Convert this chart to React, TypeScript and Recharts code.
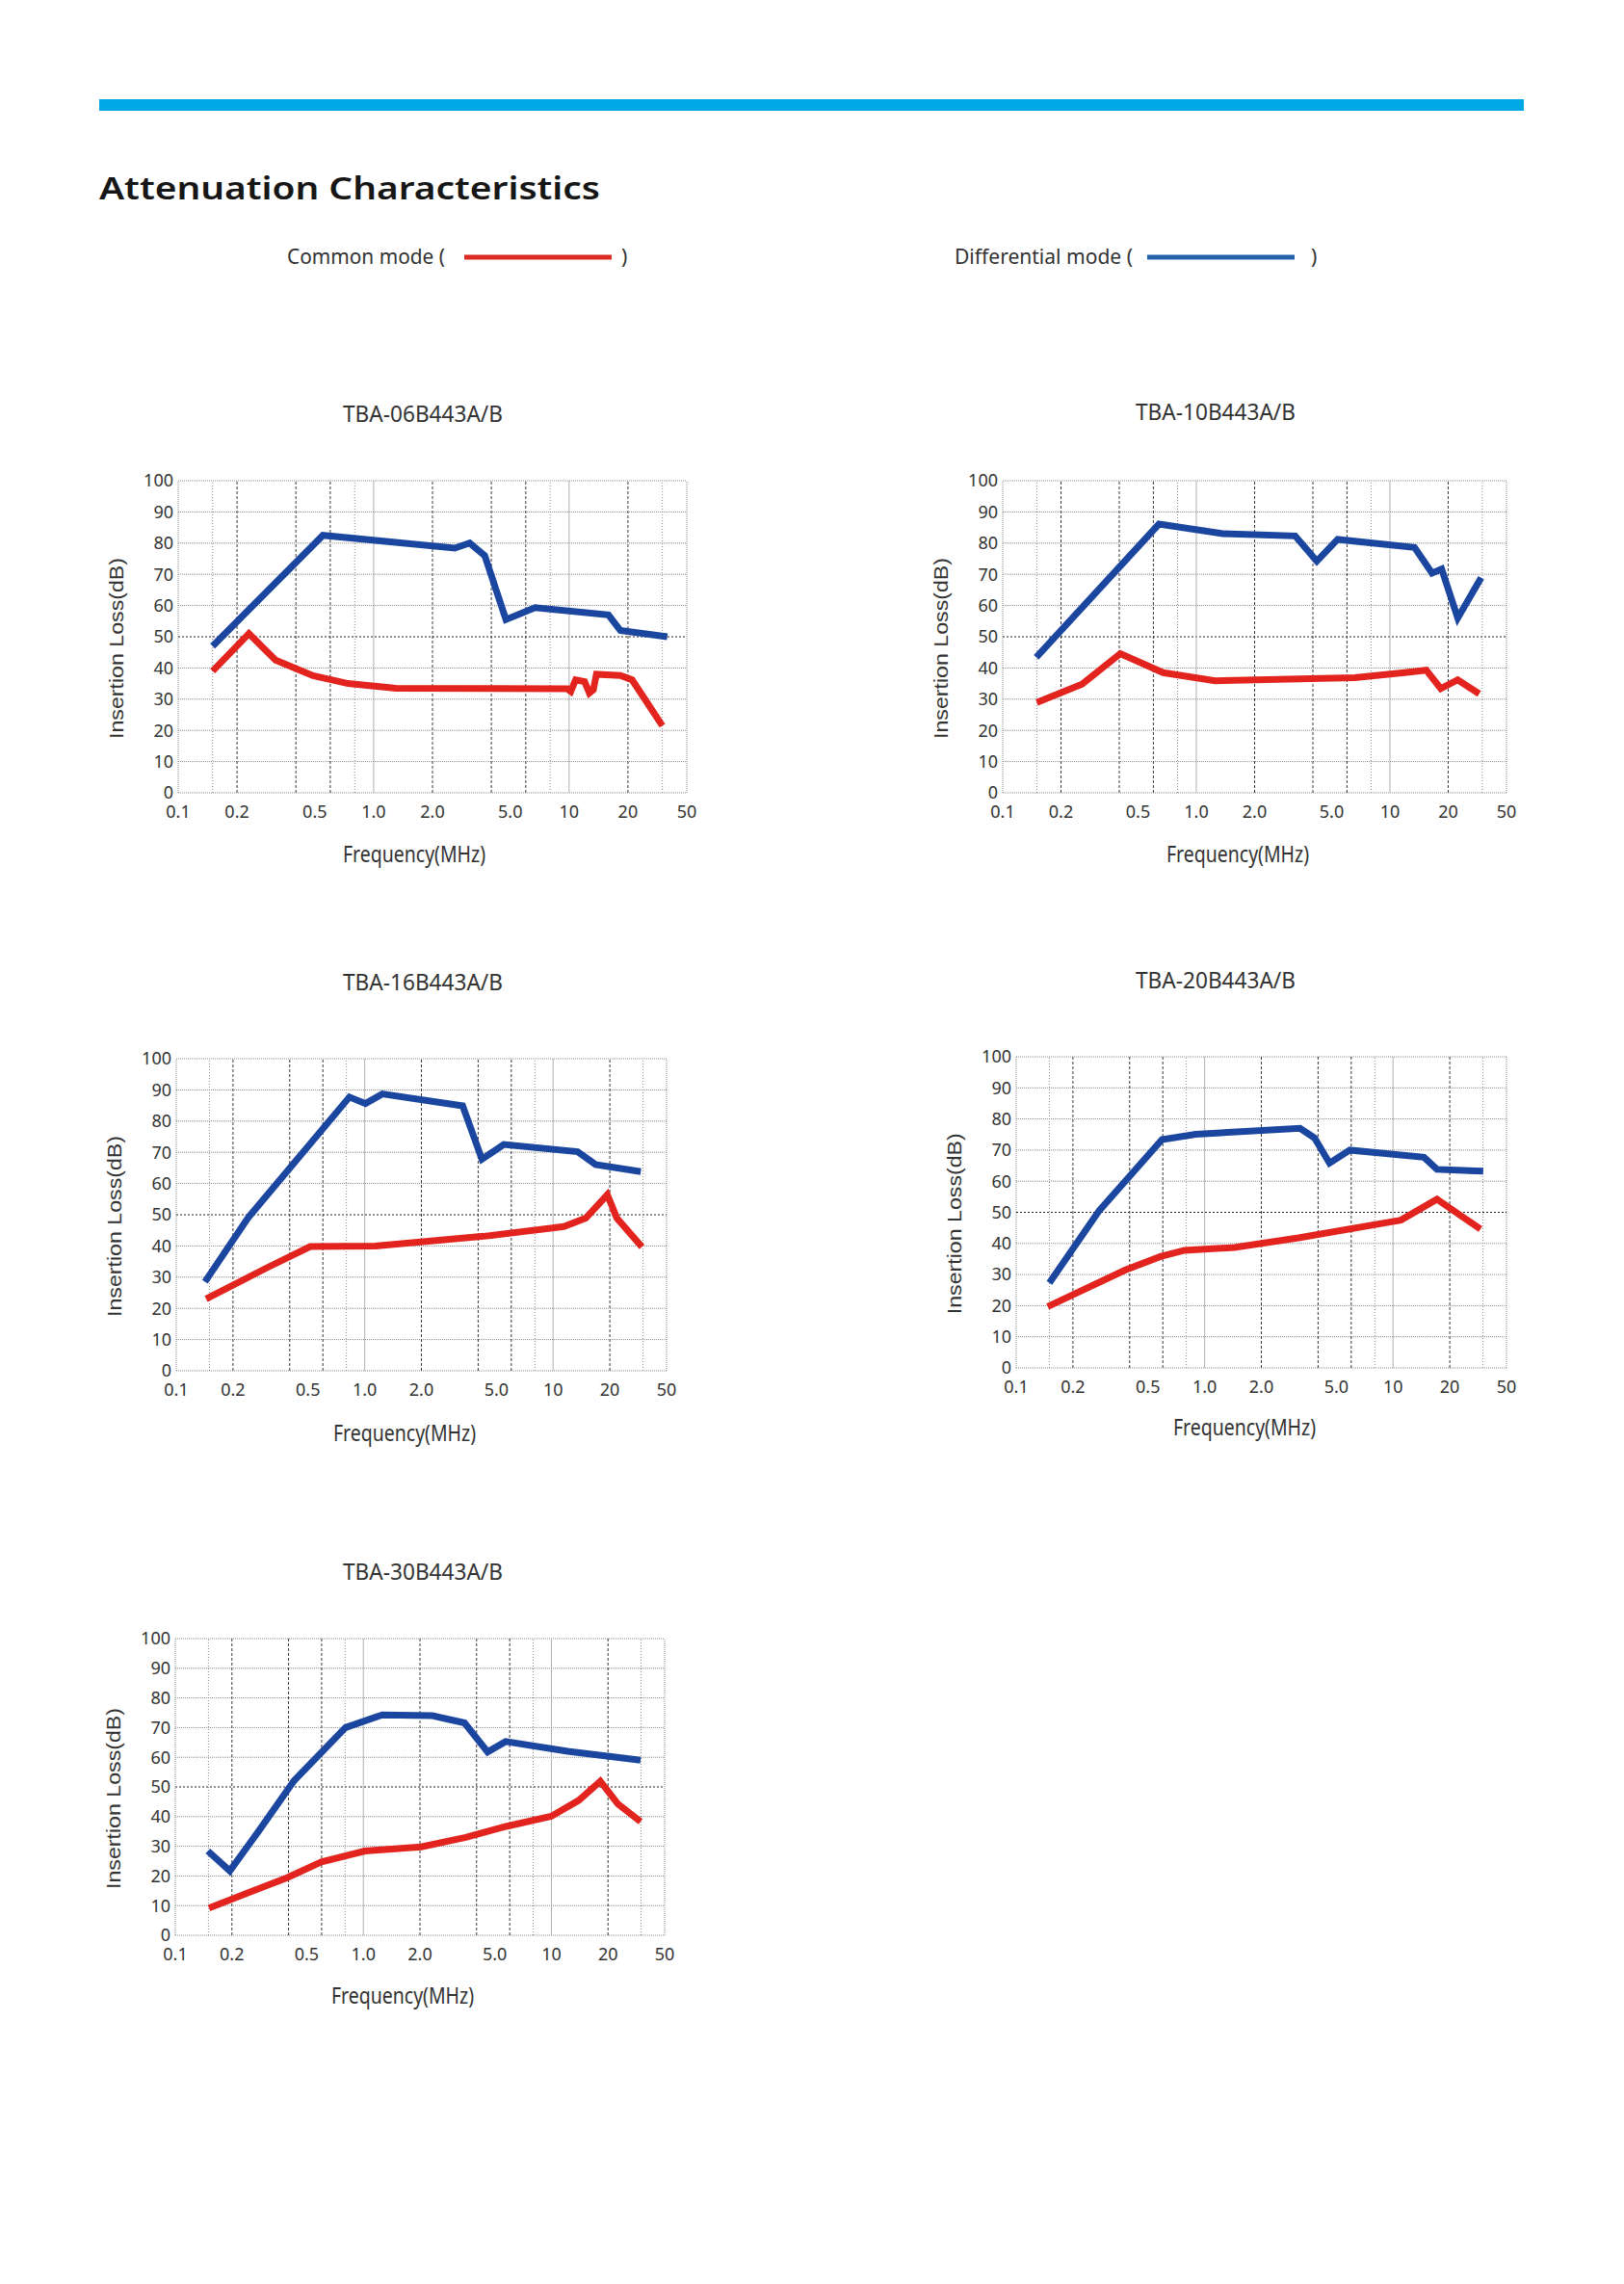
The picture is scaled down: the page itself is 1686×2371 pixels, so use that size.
import React from "react";
import { LineChart, Line, XAxis, YAxis, ReferenceLine } from "recharts";

// ---------- axis definitions ----------
const X_TICKS = [0.1, 0.2, 0.5, 1, 2, 5, 10, 20, 40];
const X_TICK_LABELS = ["0.1", "0.2", "0.5", "1.0", "2.0", "5.0", "10", "20", "50"];
const Y_TICKS = [0, 10, 20, 30, 40, 50, 60, 70, 80, 90, 100];
const X_GRID_DARK = [0.2, 0.4, 0.6, 2, 4, 6, 20];
const X_GRID_DOT = [0.15, 0.8, 8, 30];
const X_GRID_SOLID = [1, 10];
const Y_GRID = [10, 20, 30, 40, 60, 70, 80, 90];

// ---------- TBA-06B443A/B ----------
const CM06_F = [0.15, 0.23, 0.315, 0.49, 0.74, 1.3, 9.8, 10.2, 10.8, 12, 12.7, 13.3, 13.8, 18.3, 21, 30];
const CM06_V = [39, 51, 42.5, 37.5, 35, 33.5, 33.3, 32.5, 36.2, 35.6, 32, 33, 38, 37.6, 36.2, 21.5];
const DM06_F = [0.15, 0.55, 2.6, 3.1, 3.7, 4.75, 6.7, 15.9, 18.3, 31.8];
const DM06_V = [47, 82.5, 78.4, 80, 76, 55.5, 59.3, 57, 52, 50];

// ---------- TBA-10B443A/B ----------
const CM10_F = [0.15, 0.257, 0.405, 0.674, 1.25, 6.57, 11.9, 15.4, 18.3, 22.4, 28.9];
const CM10_V = [28.9, 34.8, 44.6, 38.5, 35.9, 36.9, 38.5, 39.3, 33.4, 36.2, 31.7];
const DM10_F = [0.149, 0.641, 1.37, 3.24, 4.19, 5.37, 13.4, 16.5, 18.5, 22.4, 29.6];
const DM10_V = [43.4, 86.1, 83, 82.3, 74.2, 81.2, 78.6, 70.4, 71.7, 56, 68.9];

// ---------- TBA-16B443A/B ----------
const CM16_F = [0.144, 0.305, 0.514, 1.14, 4.3, 11.4, 14.9, 19.4, 21.8, 29.6];
const CM16_V = [23, 33.1, 39.8, 40, 43.1, 46.2, 48.9, 56.4, 48.9, 39.7];
const DM16_F = [0.142, 0.241, 0.83, 1.01, 1.24, 3.31, 4.19, 5.47, 13.5, 16.8, 29.2];
const DM16_V = [28.5, 49.1, 87.7, 85.6, 88.7, 84.9, 67.8, 72.5, 70.2, 66.1, 63.8];

// ---------- TBA-20B443A/B ----------
const CM20_F = [0.147, 0.378, 0.583, 0.782, 1.44, 3.15, 11, 17.1, 29.1];
const CM20_V = [19.7, 31.4, 35.8, 37.8, 38.7, 41.8, 47.5, 54.2, 44.6];
const DM20_F = [0.15, 0.276, 0.594, 0.896, 3.21, 3.83, 4.6, 5.9, 14.6, 17.1, 30.1];
const DM20_V = [27.3, 50.6, 73.4, 75.1, 77, 73.9, 65.8, 70, 67.7, 63.8, 63.2];

// ---------- TBA-30B443A/B ----------
const CM30_F = [0.151, 0.396, 0.598, 1.02, 2.03, 3.5, 5.75, 9.98, 14, 18.2, 22.6, 29.8];
const CM30_V = [9.2, 19.5, 24.7, 28.4, 29.8, 33, 36.7, 40.1, 45.5, 51.9, 44.2, 38.3];
const DM30_F = [0.149, 0.195, 0.278, 0.428, 0.804, 1.26, 2.33, 3.45, 4.58, 5.71, 12.2, 29.8];
const DM30_V = [28.4, 21.7, 35.2, 52.1, 70, 74.3, 74, 71.6, 61.8, 65.3, 62, 59];

const RED = "#e3241e";
const BLUE = "#1b46a0";
const FONT = "'Noto Sans', 'DejaVu Sans', sans-serif";

const zip = (f: number[], v: number[]) => f.map((x, i) => ({ f: x, v: v[i] }));

type ChartProps = {
  title: string;
  L: number; T: number; R: number; B: number;
  tx: number; ty: number; fx: number; fy: number;
  cmF: number[]; cmV: number[]; dmF: number[]; dmV: number[];
};

const CHARTS: ChartProps[] = [
  { title: "TBA-06B443A/B", L: 184.5, T: 499, R: 712, B: 823, tx: 439, ty: 430, fx: 430, fy: 887, cmF: CM06_F, cmV: CM06_V, dmF: DM06_F, dmV: DM06_V },
  { title: "TBA-10B443A/B", L: 1041, T: 499, R: 1564, B: 823, tx: 1262, ty: 428, fx: 1285, fy: 887, cmF: CM10_F, cmV: CM10_V, dmF: DM10_F, dmV: DM10_V },
  { title: "TBA-16B443A/B", L: 183, T: 1099, R: 692, B: 1423, tx: 439, ty: 1020, fx: 420, fy: 1488, cmF: CM16_F, cmV: CM16_V, dmF: DM16_F, dmV: DM16_V },
  { title: "TBA-20B443A/B", L: 1055, T: 1097, R: 1564, B: 1419.5, tx: 1262, ty: 1018, fx: 1292, fy: 1482, cmF: CM20_F, cmV: CM20_V, dmF: DM20_F, dmV: DM20_V },
  { title: "TBA-30B443A/B", L: 181.5, T: 1701, R: 689, B: 2009, tx: 439, ty: 1632, fx: 418, fy: 2072, cmF: CM30_F, cmV: CM30_V, dmF: DM30_F, dmV: DM30_V },
];

const YW = 60;
const XH = 44;
const MT = 20;
const MR = 20;

function AttChart(p: ChartProps) {
  const w = Math.round(p.R - p.L + YW + MR);
  const h = Math.round(p.B - p.T + MT + XH);
  const fmt = (v: number) => {
    const i = X_TICKS.indexOf(v);
    return i >= 0 ? X_TICK_LABELS[i] : String(v);
  };
  return (
    <div style={{ position: "absolute", left: p.L - YW, top: p.T - MT }}>
      <LineChart width={w} height={h} margin={{ top: MT, right: MR, bottom: 0, left: 0 }}>
        <XAxis
          type="number"
          dataKey="f"
          scale="log"
          domain={[0.1, 40]}
          allowDataOverflow
          ticks={X_TICKS}
          interval={0}
          tickFormatter={fmt}
          axisLine={false}
          tickLine={false}
          tickSize={0}
          tickMargin={13}
          height={XH}
          tick={{ fontSize: 18, fill: "#333", fontFamily: FONT }}
        />
        <YAxis
          type="number"
          domain={[0, 100]}
          ticks={Y_TICKS}
          interval={0}
          width={YW}
          axisLine={false}
          tickLine={false}
          tickSize={0}
          tickMargin={5}
          tick={{ fontSize: 18, fill: "#333", fontFamily: FONT }}
        />
        {Y_GRID.map((y) => (
          <ReferenceLine key={"y" + y} y={y} stroke="#8a8a8a" strokeWidth={1} strokeDasharray="1 1" />
        ))}
        <ReferenceLine y={50} stroke="#222" strokeWidth={1} strokeDasharray="2 2" />
        <ReferenceLine y={100} stroke="#8a8a8a" strokeWidth={1} strokeDasharray="1 1" />
        <ReferenceLine y={0} stroke="#8a8a8a" strokeWidth={1} strokeDasharray="1 1" />
        {X_GRID_DOT.map((x) => (
          <ReferenceLine key={"d" + x} x={x} stroke="#8a8a8a" strokeWidth={1} strokeDasharray="1 2" />
        ))}
        {X_GRID_SOLID.map((x) => (
          <ReferenceLine key={"s" + x} x={x} stroke="#b0b0b0" strokeWidth={1} />
        ))}
        {X_GRID_DARK.map((x) => (
          <ReferenceLine key={"k" + x} x={x} stroke="#3a3a3a" strokeWidth={1} strokeDasharray="3 2" />
        ))}
        <ReferenceLine x={0.1} stroke="#8a8a8a" strokeWidth={1} strokeDasharray="1 1" />
        <ReferenceLine x={40} stroke="#8a8a8a" strokeWidth={1} strokeDasharray="1 1" />
        <Line
          data={zip(p.dmF, p.dmV)}
          dataKey="v"
          type="linear"
          stroke={BLUE}
          strokeWidth={7}
          dot={false}
          activeDot={false}
          isAnimationActive={false}
        />
        <Line
          data={zip(p.cmF, p.cmV)}
          dataKey="v"
          type="linear"
          stroke={RED}
          strokeWidth={7}
          dot={false}
          activeDot={false}
          isAnimationActive={false}
        />
      </LineChart>
    </div>
  );
}

function Texts() {
  return (
    <svg
      width={1686}
      height={2371}
      style={{ position: "absolute", left: 0, top: 0, pointerEvents: "none" }}
    >
      <text x={103} y={207} fontSize={32} fontWeight={600} fontFamily={FONT} fill="#161616"
        textLength={520} lengthAdjust="spacingAndGlyphs">Attenuation Characteristics</text>

      <text x={298} y={274} fontSize={21} fontFamily={FONT} fill="#333"
        textLength={164} lengthAdjust="spacingAndGlyphs">Common mode (</text>
      <line x1={482} x2={635} y1={267} y2={267} stroke="#dc2b23" strokeWidth={5} />
      <text x={645} y={274} fontSize={21} fontFamily={FONT} fill="#333">)</text>

      <text x={991} y={274} fontSize={21} fontFamily={FONT} fill="#333"
        textLength={185} lengthAdjust="spacingAndGlyphs">Differential mode (</text>
      <line x1={1191} x2={1344} y1={267} y2={267} stroke="#2562ad" strokeWidth={5} />
      <text x={1361} y={274} fontSize={21} fontFamily={FONT} fill="#333">)</text>

      {CHARTS.map((c) => (
        <g key={c.title}>
          <text x={c.tx} y={c.ty + 8} fontSize={23} fontFamily={FONT} fill="#333" textAnchor="middle"
            textLength={166} lengthAdjust="spacingAndGlyphs">{c.title}</text>
          <text x={c.fx} y={c.fy + 8} fontSize={23} fontFamily={FONT} fill="#333" textAnchor="middle"
            textLength={148} lengthAdjust="spacingAndGlyphs">Frequency(MHz)</text>
          <text
            transform={`translate(${c.L - 57}, ${(c.T + c.B) / 2 + 12}) rotate(-90)`}
            x={0} y={0} fontSize={21} fontFamily="'Liberation Sans', Arial, sans-serif" fill="#333"
            textAnchor="middle" textLength={188} lengthAdjust="spacingAndGlyphs">Insertion Loss(dB)</text>
        </g>
      ))}
    </svg>
  );
}

export default function App() {
  return (
    <div style={{ position: "absolute", left: 0, top: 0, width: 1686, height: 2371, background: "#fff" }}>
      <div style={{ position: "absolute", left: 103, top: 103, width: 1479, height: 12, background: "#00a8e6" }} />
      <Texts />
      {CHARTS.map((c) => (
        <AttChart key={c.title} {...c} />
      ))}
    </div>
  );
}
